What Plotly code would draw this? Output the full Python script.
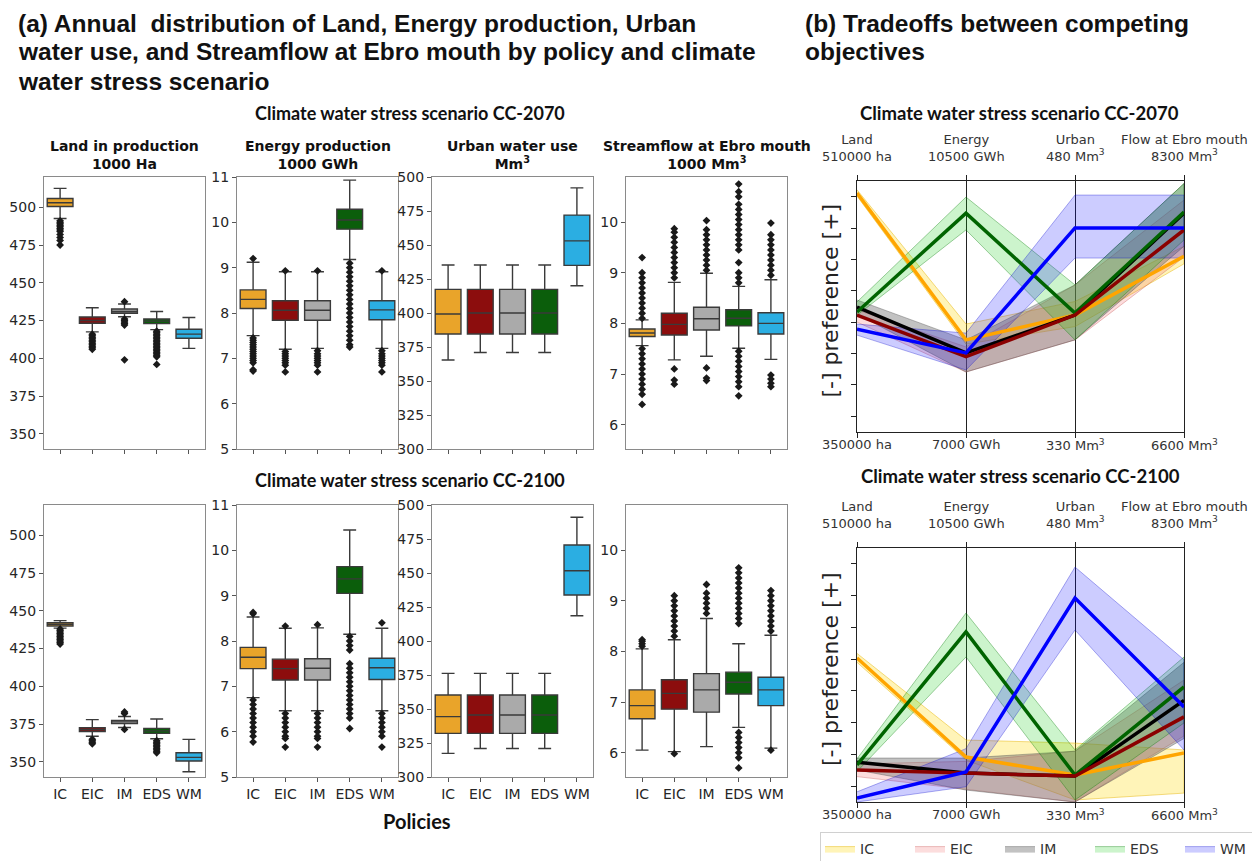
import plotly.graph_objects as go

W, H = 1252, 861

policies = ["IC", "EIC", "IM", "EDS", "WM"]
box_fill = ["#E9A42A", "#8C0D0D", "#AAAAAA", "#0B5E0B", "#2BAEE2"]
line_col = ["#FFA500", "#8B0000", "#000000", "#006400", "#0000FF"]
band_col = ["rgba(255,215,0,0.28)", "rgba(240,100,100,0.22)", "rgba(110,110,110,0.42)",
            "rgba(0,200,0,0.20)", "rgba(0,0,255,0.20)"]
band_edge = ["rgba(230,180,0,0.6)", "rgba(200,80,80,0.45)", "rgba(80,80,80,0.5)",
             "rgba(0,120,0,0.45)", "rgba(0,0,200,0.4)"]

# ---------------- CC-2070 box statistics ----------------
land70_q1 = [500.5, 423.2, 429.8, 423.0, 413.3]
land70_med = [503.0, 425.0, 431.0, 424.6, 416.0]
land70_q3 = [505.8, 427.4, 432.6, 426.0, 419.2]
land70_lo = [492.5, 417.5, 427.5, 419.0, 406.6]
land70_hi = [512.5, 433.5, 436.0, 431.0, 427.0]
land70_out = [[491, 490, 489, 488, 487, 486, 485, 484, 482, 480, 478, 475],
              [416, 415, 414, 413, 412, 411, 410, 409, 408, 407, 406],
              [437.5, 426, 425, 424, 423, 422, 399],
              [418, 417, 416, 415, 414, 413, 412, 411, 410, 409, 408, 407, 406, 405, 404, 403, 402, 401, 396],
              []]

energy70_q1 = [8.10, 7.84, 7.84, 9.85, 7.85]
energy70_med = [8.30, 8.06, 8.06, 10.05, 8.07]
energy70_q3 = [8.51, 8.27, 8.27, 10.29, 8.27]
energy70_lo = [7.50, 7.20, 7.22, 9.18, 7.22]
energy70_hi = [9.12, 8.91, 8.91, 10.93, 8.91]
energy70_out = [[9.2, 7.45, 7.4, 7.35, 7.3, 7.25, 7.2, 7.15, 7.1, 7.05, 7.0, 6.95, 6.9, 6.75, 6.72],
                [8.93, 7.15, 7.1, 7.05, 7.0, 6.95, 6.9, 6.85, 6.7],
                [8.93, 7.17, 7.1, 7.05, 7.0, 6.95, 6.9, 6.85, 6.7],
                [9.1, 9.0, 8.9, 8.8, 8.7, 8.6, 8.5, 8.4, 8.3, 8.2, 8.1, 8.0, 7.9, 7.8, 7.7, 7.6, 7.5, 7.4, 7.3, 7.25],
                [8.93, 7.17, 7.1, 7.05, 7.0, 6.95, 6.9, 6.85, 6.7]]

urban70_q1 = [384.6, 384.6, 384.6, 384.6, 435.0]
urban70_med = [399.3, 400.0, 400.0, 400.0, 453.0]
urban70_q3 = [417.4, 417.4, 417.4, 417.4, 472.0]
urban70_lo = [365.4, 371.0, 371.0, 371.0, 420.0]
urban70_hi = [435.3, 435.3, 435.3, 435.3, 492.0]
urban70_out = [[], [], [], [], []]

flow70_q1 = [7.74, 7.77, 7.87, 7.95, 7.79]
flow70_med = [7.81, 7.98, 8.09, 8.10, 8.00]
flow70_q3 = [7.89, 8.20, 8.32, 8.27, 8.21]
flow70_lo = [7.56, 7.28, 7.35, 7.51, 7.29]
flow70_hi = [8.07, 8.81, 8.99, 8.73, 8.86]
flow70_out = [[8.1, 8.2, 8.3, 8.4, 8.5, 8.6, 8.7, 8.8, 8.9, 9.0, 9.3,
               7.5, 7.4, 7.3, 7.2, 7.1, 7.0, 6.9, 6.8, 6.7, 6.6, 6.4],
              [8.9, 9.0, 9.1, 9.2, 9.3, 9.4, 9.5, 9.6, 9.7, 9.8, 9.87, 7.1, 6.88, 6.8],
              [9.05, 9.15, 9.25, 9.35, 9.45, 9.55, 9.65, 9.75, 9.85, 10.03, 7.12, 6.92, 6.87],
              [8.8, 8.9, 9.0, 9.2, 9.45, 9.55, 9.65, 9.75, 9.85, 9.95, 10.05, 10.15, 10.25, 10.35,
               10.5, 10.6, 10.75, 7.45, 7.35, 7.25, 7.15, 7.05, 6.95, 6.85, 6.75, 6.57],
              [8.95, 9.05, 9.15, 9.25, 9.35, 9.45, 9.55, 9.65, 9.75, 9.98, 6.98, 6.9, 6.82, 6.75]]

# ---------------- CC-2100 box statistics ----------------
land00_q1 = [439.9, 370.0, 375.3, 368.9, 350.6]
land00_med = [441.0, 371.3, 376.5, 370.5, 353.0]
land00_q3 = [442.1, 372.6, 377.5, 372.2, 356.0]
land00_lo = [438.5, 367.0, 372.8, 365.3, 343.5]
land00_hi = [443.5, 378.0, 380.0, 378.4, 364.9]
land00_out = [[438, 437, 436, 435, 434, 433, 432, 431, 430, 429, 428],
              [365, 364, 363, 362],
              [382, 383, 371.5],
              [364, 363, 362, 361, 360, 359, 358, 357, 356],
              []]

energy00_q1 = [7.39, 7.14, 7.14, 9.05, 7.15]
energy00_med = [7.64, 7.39, 7.40, 9.37, 7.41]
energy00_q3 = [7.86, 7.60, 7.61, 9.64, 7.62]
energy00_lo = [6.75, 6.46, 6.46, 8.15, 6.46]
energy00_hi = [8.53, 8.28, 8.29, 10.45, 8.28]
energy00_out = [[8.6, 8.63, 6.7, 6.6, 6.5, 6.4, 6.3, 6.2, 6.1, 6.0, 5.9, 5.77],
                [8.33, 6.4, 6.3, 6.2, 6.1, 6.0, 5.9, 5.85, 5.66],
                [8.36, 6.4, 6.3, 6.2, 6.1, 6.0, 5.9, 5.85, 5.66],
                [8.1, 8.0, 7.9, 7.8, 7.5, 7.4, 7.3, 7.2, 7.1, 7.0, 6.9, 6.8, 6.7, 6.6, 6.5, 6.4, 6.3, 6.07],
                [8.4, 6.4, 6.3, 6.2, 6.1, 6.0, 5.9, 5.66]]

urban00_q1 = [332.1, 332.1, 332.1, 332.1, 433.8]
urban00_med = [344.4, 345.6, 345.6, 345.6, 451.7]
urban00_q3 = [360.3, 360.3, 360.3, 360.3, 470.6]
urban00_lo = [317.4, 321.0, 321.0, 321.0, 418.6]
urban00_hi = [376.2, 376.2, 376.2, 376.2, 491.0]
urban00_out = [[], [], [], [], []]

flow00_q1 = [6.67, 6.86, 6.80, 7.16, 6.93]
flow00_med = [6.93, 7.17, 7.24, 7.39, 7.24]
flow00_q3 = [7.24, 7.44, 7.56, 7.59, 7.49]
flow00_lo = [6.05, 6.02, 6.12, 6.50, 6.09]
flow00_hi = [8.05, 8.23, 8.65, 8.15, 8.32]
flow00_out = [[8.1, 8.15, 8.2, 8.23],
              [8.3, 8.4, 8.5, 8.6, 8.7, 8.8, 8.9, 9.0, 9.1, 5.98],
              [8.75, 8.85, 8.95, 9.05, 9.15, 9.32],
              [8.55, 8.65, 8.75, 8.85, 8.95, 9.05, 9.15, 9.25, 9.35, 9.45, 9.55, 9.65,
               6.4, 6.3, 6.2, 6.1, 6.0, 5.9, 5.7],
              [8.4, 8.5, 8.6, 8.7, 8.8, 8.9, 9.0, 9.1, 9.2, 6.05]]

# axis ranges and ticks
land_range, land_ticks = [340, 520], [350, 375, 400, 425, 450, 475, 500]
energy_range, energy_ticks = [5, 11], [5, 6, 7, 8, 9, 10, 11]
urban_range, urban_ticks = [300, 500], [300, 325, 350, 375, 400, 425, 450, 475, 500]
flow_range, flow_ticks = [5.52, 10.89], [6, 7, 8, 9, 10]

panel_titles = ["Land in production<br>1000 Ha", "Energy production<br>1000 GWh",
                "Urban water use<br>Mm<sup>3</sup>", "Streamflow at Ebro mouth<br>1000 Mm<sup>3</sup>"]

# ---------------- parallel coordinates (normalised preference 0..1) ----------------
pc_axis_names = ["Land", "Energy", "Urban", "Flow at Ebro mouth"]
pc_axis_max = ["510000 ha", "10500 GWh", "480 Mm<sup>3</sup>", "8300 Mm<sup>3</sup>"]
pc_axis_min = ["350000 ha", "7000 GWh", "330 Mm<sup>3</sup>", "6600 Mm<sup>3</sup>"]
pc_ticks = [0.0625, 0.1875, 0.3125, 0.4375, 0.5625, 0.6875, 0.8125, 0.9375]

pc70_mid = [[0.952, 0.367, 0.466, 0.700],
            [0.466, 0.300, 0.466, 0.805],
            [0.498, 0.315, 0.466, 0.872],
            [0.478, 0.872, 0.474, 0.876],
            [0.410, 0.315, 0.813, 0.813]]
pc70_lo = [[0.940, 0.350, 0.420, 0.670],
           [0.438, 0.239, 0.367, 0.697],
           [0.470, 0.239, 0.367, 0.740],
           [0.465, 0.805, 0.367, 0.765],
           [0.386, 0.247, 0.693, 0.693]]
pc70_hi = [[0.965, 0.430, 0.520, 0.740],
           [0.486, 0.339, 0.586, 0.924],
           [0.526, 0.367, 0.586, 0.990],
           [0.518, 0.936, 0.586, 0.990],
           [0.430, 0.394, 0.944, 0.944]]

pc00_mid = [[0.567, 0.177, 0.106, 0.193],
            [0.126, 0.114, 0.102, 0.335],
            [0.157, 0.114, 0.102, 0.400],
            [0.146, 0.670, 0.106, 0.453],
            [0.016, 0.118, 0.803, 0.374]]
pc00_lo = [[0.550, 0.165, 0.008, 0.035],
           [0.100, 0.050, 0.000, 0.260],
           [0.126, 0.047, 0.000, 0.250],
           [0.120, 0.571, 0.008, 0.311],
           [0.000, 0.060, 0.677, 0.205]]
pc00_hi = [[0.585, 0.244, 0.232, 0.205],
           [0.150, 0.160, 0.200, 0.480],
           [0.173, 0.173, 0.200, 0.550],
           [0.170, 0.744, 0.205, 0.571],
           [0.040, 0.210, 0.925, 0.560]]

# ---------------- layout helpers ----------------
def dx(a, b):
    return [a / W, b / W]

def dy(top, bottom):
    return [1 - bottom / H, 1 - top / H]

col_px = [(44, 205), (237, 398), (432, 593), (626, 787)]
row_px = [(177, 449), (505, 777)]

fig = go.Figure()
layout = {}
annotations = []

tick_font = dict(family="DejaVu Sans", size=14, color="#262626")

panels = [
    [(land70_q1, land70_med, land70_q3, land70_lo, land70_hi, land70_out, land_range, land_ticks),
     (energy70_q1, energy70_med, energy70_q3, energy70_lo, energy70_hi, energy70_out, energy_range, energy_ticks),
     (urban70_q1, urban70_med, urban70_q3, urban70_lo, urban70_hi, urban70_out, urban_range, urban_ticks),
     (flow70_q1, flow70_med, flow70_q3, flow70_lo, flow70_hi, flow70_out, flow_range, flow_ticks)],
    [(land00_q1, land00_med, land00_q3, land00_lo, land00_hi, land00_out, land_range, land_ticks),
     (energy00_q1, energy00_med, energy00_q3, energy00_lo, energy00_hi, energy00_out, energy_range, energy_ticks),
     (urban00_q1, urban00_med, urban00_q3, urban00_lo, urban00_hi, urban00_out, urban_range, urban_ticks),
     (flow00_q1, flow00_med, flow00_q3, flow00_lo, flow00_hi, flow00_out, flow_range, flow_ticks)],
]

ax = 0
for r in range(2):
    for c in range(4):
        ax += 1
        q1, med, q3, lo, hi, outs, yr, yt = panels[r][c]
        xa, ya = f"x{ax}", f"y{ax}"
        for i, p in enumerate(policies):
            fig.add_trace(go.Box(
                x=[p], q1=[q1[i]], median=[med[i]], q3=[q3[i]],
                lowerfence=[lo[i]], upperfence=[hi[i]],
                fillcolor=box_fill[i], line=dict(color="#3a3a3a", width=1.4),
                width=0.8, whiskerwidth=0.5, boxpoints=False,
                showlegend=False, hoverinfo="skip", xaxis=xa, yaxis=ya))
            if outs[i]:
                fig.add_trace(go.Scatter(
                    x=[p] * len(outs[i]), y=outs[i], mode="markers",
                    marker=dict(symbol="diamond", size=6, color="#1a1a1a"),
                    showlegend=False, hoverinfo="skip", xaxis=xa, yaxis=ya))
        layout[f"xaxis{ax}"] = dict(
            domain=dx(*col_px[c]), anchor=ya, type="category",
            categoryorder="array", categoryarray=policies, range=[-0.5, 4.5],
            showline=True, mirror=True, linecolor="#8a8a8a", linewidth=1.3,
            ticks="outside", ticklen=4, tickcolor="#555", showgrid=False,
            showticklabels=(r == 1), tickfont=tick_font, zeroline=False)
        layout[f"yaxis{ax}"] = dict(
            domain=dy(*row_px[r]), anchor=xa, range=yr, tickvals=yt,
            showline=True, mirror=True, linecolor="#8a8a8a", linewidth=1.3,
            ticks="outside", ticklen=4, tickcolor="#555", showgrid=False,
            tickfont=tick_font, zeroline=False)
        if r == 0:
            annotations.append(dict(
                text=panel_titles[c], xref="paper", yref="paper",
                x=(col_px[c][0] + col_px[c][1]) / 2 / W, y=1 - 174 / H,
                xanchor="center", yanchor="bottom", showarrow=False,
                font=dict(family="DejaVu Sans", size=14, color="#111", weight="bold")))

# ---------------- parallel coordinate panels ----------------
pc_sets = [(pc70_mid, pc70_lo, pc70_hi, (181, 432)), (pc00_mid, pc00_lo, pc00_hi, (548, 802))]
line_order = [0, 2, 3, 1, 4]
xpos = [0, 1, 2, 3]
for k, (mid, lo, hi, (ytop, ybot)) in enumerate(pc_sets):
    ax = 9 + k
    xa, ya = f"x{ax}", f"y{ax}"
    for i, p in enumerate(policies):
        fig.add_trace(go.Scatter(
            x=xpos + xpos[::-1], y=hi[i] + lo[i][::-1], fill="toself",
            fillcolor=band_col[i], line=dict(color=band_edge[i], width=0.8),
            mode="lines", name=p, legendgroup=p, showlegend=(k == 1),
            hoverinfo="skip", xaxis=xa, yaxis=ya))
    for i in line_order:
        fig.add_trace(go.Scatter(
            x=xpos, y=mid[i], mode="lines", line=dict(color=line_col[i], width=3.5),
            showlegend=False, hoverinfo="skip", xaxis=xa, yaxis=ya))
    layout[f"xaxis{ax}"] = dict(
        domain=dx(857, 1184), anchor=ya, range=[0, 3], tickvals=xpos,
        showticklabels=False, showgrid=True, gridcolor="#222", gridwidth=1,
        showline=True, mirror="ticks", linecolor="#222", linewidth=1,
        ticks="outside", ticklen=5, tickcolor="#222", zeroline=False)
    layout[f"yaxis{ax}"] = dict(
        domain=dy(ytop, ybot), anchor=xa, range=[0, 1], tickvals=pc_ticks,
        showticklabels=False, showgrid=False, showline=True, mirror=True,
        linecolor="#222", linewidth=1, ticks="outside", ticklen=5,
        tickcolor="#222", zeroline=False)
    for j in range(4):
        annotations.append(dict(
            text=pc_axis_names[j] + "<br>" + pc_axis_max[j], xref=xa, yref="paper",
            x=xpos[j], y=1 - (ytop - 15) / H, xanchor="center", yanchor="bottom",
            showarrow=False, font=dict(family="DejaVu Sans", size=13, color="#333")))
        annotations.append(dict(
            text=pc_axis_min[j], xref=xa, yref="paper",
            x=xpos[j], y=1 - (ybot + 3) / H, xanchor="center", yanchor="top",
            showarrow=False, font=dict(family="DejaVu Sans", size=13, color="#333")))
    annotations.append(dict(
        text="[-] preference [+]", xref="paper", yref="paper",
        x=830 / W, y=1 - ((ytop + ybot) / 2 - 6) / H, textangle=-90,
        xanchor="center", yanchor="middle", showarrow=False,
        font=dict(family="DejaVu Sans", size=22, color="#222")))

# ---------------- headings ----------------
head_font = dict(family="Liberation Sans", size=24.5, color="#111", weight="bold")
head_a = ["(a) Annual  distribution of Land, Energy production, Urban",
          "water use, and Streamflow at Ebro mouth by policy and climate",
          "water stress scenario"]
head_b = ["(b) Tradeoffs between competing", "objectives"]
for j, t in enumerate(head_a):
    annotations.append(dict(text=t, xref="paper", yref="paper", x=16 / W,
                            y=1 - (23 + 29 * j) / H, xanchor="left", yanchor="middle",
                            showarrow=False, font=head_font))
for j, t in enumerate(head_b):
    annotations.append(dict(text=t, xref="paper", yref="paper", x=803 / W,
                            y=1 - (23 + 29 * j) / H, xanchor="left", yanchor="middle",
                            showarrow=False, font=head_font))

for t, xc, yc, fs in [("Climate water stress scenario CC-2070", 410, 113, 18),
                      ("Climate water stress scenario CC-2100", 410, 480, 18),
                      ("Climate water stress scenario CC-2070", 1019, 113, 18.5),
                      ("Climate water stress scenario CC-2100", 1020, 476, 18.5)]:
    annotations.append(dict(text=t, xref="paper", yref="paper", x=xc / W, y=1 - yc / H,
                            xanchor="center", yanchor="middle", showarrow=False,
                            font=dict(family="Lato", size=fs, color="#111", weight="bold")))

annotations.append(dict(text="Policies", xref="paper", yref="paper", x=417 / W, y=1 - 821 / H,
                        xanchor="center", yanchor="middle", showarrow=False,
                        font=dict(family="Lato", size=20, color="#111", weight="bold")))

fig.update_layout(
    width=W, height=H, margin=dict(l=0, r=0, t=0, b=0, autoexpand=False),
    paper_bgcolor="white", plot_bgcolor="white", boxmode="overlay",
    annotations=annotations,
    legend=dict(orientation="h", x=820 / W, y=1 - 832 / H, xanchor="left", yanchor="top",
                bordercolor="#d0d0d0", borderwidth=1, bgcolor="white",
                entrywidth=45, entrywidthmode="pixels",
                font=dict(family="DejaVu Sans", size=14, color="#333")),
    **layout)

fig.write_html("out.html")
